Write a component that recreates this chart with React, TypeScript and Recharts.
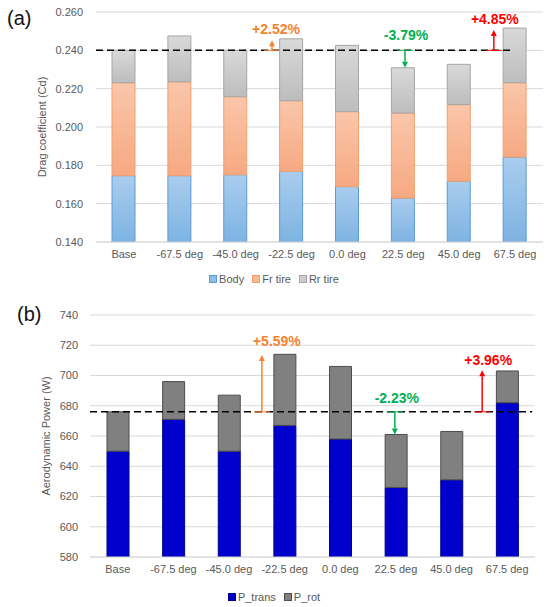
import React from 'react';
import { BarChart, Bar, XAxis, YAxis, CartesianGrid, Legend, ReferenceLine } from 'recharts';

const FONT = '"Liberation Sans", Arial, sans-serif';

const categories = ['Base', '-67.5 deg', '-45.0 deg', '-22.5 deg', '0.0 deg', '22.5 deg', '45.0 deg', '67.5 deg'];

// (a) drag coefficient, stacked contributions
const bodyCd = [0.1746, 0.1746, 0.1751, 0.1769, 0.1689, 0.1629, 0.1717, 0.1843];
const frTireCd = [0.0485, 0.049, 0.0407, 0.0368, 0.0391, 0.0444, 0.04, 0.0388];
const rrTireCd = [0.0169, 0.0239, 0.0242, 0.0323, 0.0346, 0.0236, 0.021, 0.0285];
const cdTicks = [0.14, 0.16, 0.18, 0.2, 0.22, 0.24, 0.26];
const cdBase = 0.24;

// (b) aerodynamic power, stacked
const pTrans = [650, 671, 650, 667, 658, 626, 631, 682];
const pRot = [26, 25, 37, 47, 48, 35, 32, 21];
const powerTicks = [580, 600, 620, 640, 660, 680, 700, 720, 740];
const powerBase = 676;

// change annotations: at = position on the 0..8 category span, tip = arrow end value
const cdNotes = [
  { at: 3.15, tip: 0.2453, text: '+2.52%', color: '#F5822E', offset: 6, dx: 4 },
  { at: 5.53, tip: 0.2309, text: '-3.79%', color: '#00B050', offset: 10, dx: 1 },
  { at: 7.12, tip: 0.2506, text: '+4.85%', color: '#FF0000', offset: 6, dx: 1 },
];
const powerNotes = [
  { at: 3.09, tip: 713.5, text: '+5.59%', color: '#F5822E', offset: 9, dx: 15 },
  { at: 5.48, tip: 661, text: '-2.23%', color: '#00B050', offset: 9, dx: 2 },
  { at: 7.05, tip: 703.5, text: '+3.96%', color: '#FF0000', offset: 5, dx: 6 },
];

// category i sits in the middle of slot [i, i+1]
const slots = categories.map((_, i) => i + 0.5);
const cdData = categories.map((name, i) => ({ name, x: slots[i], body: bodyCd[i], fr: frTireCd[i], rr: rrTireCd[i] }));
const powerData = categories.map((name, i) => ({ name, x: slots[i], trans: pTrans[i], rot: pRot[i] }));

const tickStyle = { fill: '#595959', fontSize: 11, fontFamily: FONT };
const catLabel = (v: number) => categories[Math.floor(v)] ?? '';

const arrow = (color: string) => (props: any) => {
  const { x1, y1, x2, y2 } = props;
  const dir = y2 < y1 ? 1 : -1;
  const head = 6;
  return (
    <g>
      <line x1={x1 - 8} y1={y1} x2={x1 + 8} y2={y1} stroke={color} strokeWidth={1} />
      <line x1={x1} y1={y1} x2={x2} y2={y2 + dir * head} stroke={color} strokeWidth={1.5} />
      <polygon points={`${x2 - 3},${y2 + dir * head} ${x2 + 3},${y2 + dir * head} ${x2},${y2}`} fill={color} />
    </g>
  );
};

const legendBox = (items: { name: string; fill: string; stroke: string }[]) => () => (
  <div style={{ display: 'flex', justifyContent: 'center', fontSize: 11, color: '#595959', fontFamily: FONT, lineHeight: '14px', paddingLeft: 6 }}>
    {items.map((it) => (
      <span key={it.name} style={{ display: 'flex', alignItems: 'center', marginRight: 8 }}>
        <span style={{ width: 6, height: 6, background: it.fill, border: `1px solid ${it.stroke}`, marginRight: 2 }} />
        {it.name}
      </span>
    ))}
  </div>
);

function DragChart() {
  return (
    <BarChart width={550} height={295} data={cdData} margin={{ top: 12, right: 7, bottom: 9, left: 0 }} barSize={23}>
      <defs>
        <linearGradient id="gBody" x1="0" y1="0" x2="0" y2="1">
          <stop offset="0%" stopColor="#A9CDEE" />
          <stop offset="100%" stopColor="#7EB3E2" />
        </linearGradient>
        <linearGradient id="gFr" x1="0" y1="0" x2="0" y2="1">
          <stop offset="0%" stopColor="#FAC6AA" />
          <stop offset="100%" stopColor="#F6A982" />
        </linearGradient>
        <linearGradient id="gRr" x1="0" y1="0" x2="0" y2="1">
          <stop offset="0%" stopColor="#D9D9D9" />
          <stop offset="100%" stopColor="#BDBDBD" />
        </linearGradient>
      </defs>
      <CartesianGrid vertical={false} stroke="#D9D9D9" />
      <XAxis
        dataKey="x"
        type="number"
        domain={[0, 8]}
        ticks={slots}
        interval={0}
        allowDataOverflow
        tickFormatter={catLabel}
        tickLine={false}
        stroke="#D9D9D9"
        tick={tickStyle}
      />
      <YAxis
        width={96}
        domain={[0.14, 0.26]}
        ticks={cdTicks}
        allowDataOverflow
        axisLine={false}
        tickLine={false}
        tickMargin={7}
        tick={tickStyle}
        tickFormatter={(v: number) => v.toFixed(3)}
        label={{ value: 'Drag coefficient (Cd)', angle: -90, position: 'insideLeft', offset: 42, style: { textAnchor: 'middle', fill: '#595959', fontSize: 11, fontFamily: FONT } }}
      />
      <Legend
        verticalAlign="bottom"
        wrapperStyle={{ left: 0, width: 550 }}
        content={legendBox([
          { name: 'Body', fill: '#8FBDE6', stroke: '#5B9BD5' },
          { name: 'Fr tire', fill: '#F8B896', stroke: '#F4A06B' },
          { name: 'Rr tire', fill: '#CCCCCC', stroke: '#A6A6A6' },
        ])}
      />
      <Bar dataKey="body" name="Body" stackId="a" fill="url(#gBody)" stroke="#5B9BD5" isAnimationActive={false} />
      <Bar dataKey="fr" name="Fr tire" stackId="a" fill="url(#gFr)" stroke="#F4A06B" isAnimationActive={false} />
      <Bar dataKey="rr" name="Rr tire" stackId="a" fill="url(#gRr)" stroke="#A6A6A6" isAnimationActive={false} />
      <ReferenceLine
        segment={[{ x: 0, y: cdBase }, { x: 7.41, y: cdBase }]}
        stroke="#000"
        strokeWidth={1.5}
        strokeDasharray="7 4"
      />
      {cdNotes.map((n) => (
        <ReferenceLine
          key={n.text}
          segment={[{ x: n.at, y: cdBase }, { x: n.at, y: n.tip }]}
          shape={arrow(n.color)}
          label={{ value: n.text, position: 'top', offset: n.offset, dx: n.dx, fill: n.color, fontSize: 14, fontWeight: 700, fontFamily: FONT }}
        />
      ))}
    </BarChart>
  );
}

function PowerChart() {
  return (
    <BarChart width={550} height={307} data={powerData} margin={{ top: 15, right: 15, bottom: 3, left: 0 }} barSize={22}>
      <CartesianGrid vertical={false} stroke="#D9D9D9" />
      <XAxis
        dataKey="x"
        type="number"
        domain={[0, 8]}
        ticks={slots}
        interval={0}
        allowDataOverflow
        tickFormatter={catLabel}
        tickLine={false}
        stroke="#D9D9D9"
        tick={tickStyle}
        height={33}
      />
      <YAxis
        width={90}
        domain={[580, 740]}
        ticks={powerTicks}
        allowDataOverflow
        axisLine={false}
        tickLine={false}
        tickMargin={6}
        tick={tickStyle}
        label={{ value: 'Aerodynamic Power (W)', angle: -90, position: 'insideLeft', offset: 46, style: { textAnchor: 'middle', fill: '#595959', fontSize: 11, fontFamily: FONT } }}
      />
      <Legend
        verticalAlign="bottom"
        wrapperStyle={{ left: 0, width: 550 }}
        content={legendBox([
          { name: 'P_trans', fill: '#0000CC', stroke: '#000088' },
          { name: 'P_rot', fill: '#808080', stroke: '#505050' },
        ])}
      />
      <Bar dataKey="trans" name="P_trans" stackId="p" fill="#0000CC" stroke="#00008B" isAnimationActive={false} />
      <Bar dataKey="rot" name="P_rot" stackId="p" fill="#808080" stroke="#4D4D4D" isAnimationActive={false} />
      <ReferenceLine
        segment={[{ x: 0, y: powerBase }, { x: 7.95, y: powerBase }]}
        stroke="#000"
        strokeWidth={1.5}
        strokeDasharray="7 4"
      />
      {powerNotes.map((n) => (
        <ReferenceLine
          key={n.text}
          segment={[{ x: n.at, y: powerBase }, { x: n.at, y: n.tip }]}
          shape={arrow(n.color)}
          label={{ value: n.text, position: 'top', offset: n.offset, dx: n.dx, fill: n.color, fontSize: 14, fontWeight: 700, fontFamily: FONT }}
        />
      ))}
    </BarChart>
  );
}

export default function App() {
  return (
    <div style={{ position: 'absolute', left: 0, top: 0, width: 550, height: 607, background: '#fff', fontFamily: FONT }}>
      <div style={{ position: 'absolute', left: 0, top: 0 }}>
        <DragChart />
      </div>
      <div style={{ position: 'absolute', left: 0, top: 300 }}>
        <PowerChart />
      </div>
      <div style={{ position: 'absolute', left: 7, top: 8, fontSize: 20, lineHeight: '20px', color: '#111' }}>(a)</div>
      <div style={{ position: 'absolute', left: 17, top: 304, fontSize: 20, lineHeight: '20px', color: '#111' }}>(b)</div>
    </div>
  );
}
